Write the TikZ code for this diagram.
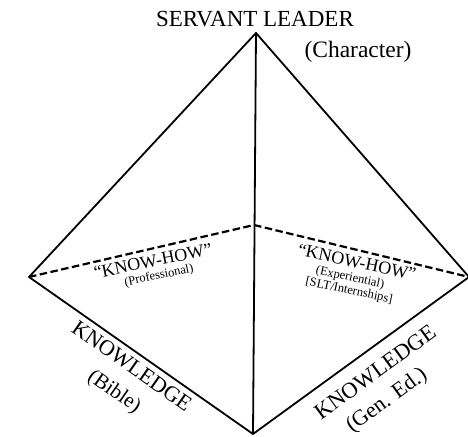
\documentclass[tikz,border=0pt]{standalone}
\usepackage{fontspec}
\setmainfont{Liberation Serif}
\begin{document}
\begin{tikzpicture}[x=1pt,y=-1pt,
  edge/.style={line width=1.8pt, line cap=round, line join=round},
  hidden/.style={line width=2.2pt, dash pattern=on 7.5pt off 3.5pt},
  lbl/.style={inner sep=0pt, anchor=center},
  big/.style={lbl, font=\fontsize{23}{23}\selectfont},
  mid/.style={lbl, font=\fontsize{18}{18}\selectfont},
  small/.style={lbl, font=\fontsize{12.5}{13}\selectfont}]
\useasboundingbox (0,0) rectangle (468,436);
\coordinate (apex) at (256,33);
\coordinate (left) at (29,277);
\coordinate (back) at (254,225);
\coordinate (right) at (469,277);
\coordinate (bottom) at (253,434);
% edges
\draw[edge] (apex) -- (bottom);
\draw[edge] (left) -- (apex) -- (right);
\draw[edge] (left) -- (bottom) -- (right);
\draw[hidden] (left) -- (back) -- (right);
% labels
\node[big] (servant) at (255,19) {SERVANT LEADER};
\node[big, font=\fontsize{23.5}{23.5}\selectfont] (character) at (358,52) {(Character)};
\node[mid, rotate=11.5] (khl) at (153,261) {“KNOW-HOW”};
\node[small, rotate=11.5] (prof) at (159,276) {(Professional)};
\node[mid, rotate=-12] (khr) at (357,262) {“KNOW-HOW”};
\node[small, rotate=-12] (exp) at (350,278) {(Experiential)};
\node[small, rotate=-12] (slt) at (349,291) {[SLT/Internships]};
\node[big, font=\fontsize{22}{22}\selectfont, rotate=-35] (kl) at (132,366) {KNOWLEDGE};
\node[big, font=\fontsize{21}{21}\selectfont, rotate=-35] (bible) at (114,392) {(Bible)};
\node[big, font=\fontsize{22.5}{22.5}\selectfont, rotate=36] (kr) at (375,372) {KNOWLEDGE};
\node[big, font=\fontsize{22}{22}\selectfont, rotate=36] (gen) at (387,401) {(Gen. Ed.)};
\end{tikzpicture}
\end{document}
